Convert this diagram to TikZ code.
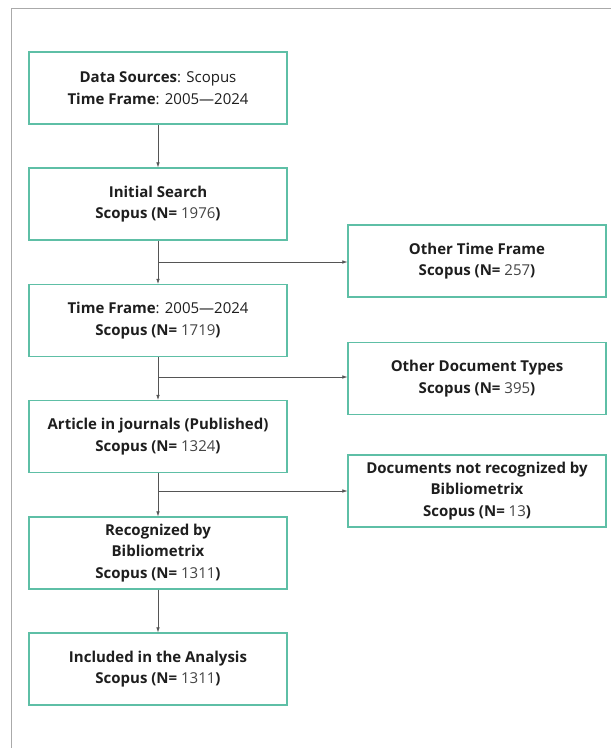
\documentclass[tikz,border=0pt]{standalone}
\usepackage{fontspec}
\setmainfont{Open Sans}
\usetikzlibrary{arrows.meta}
\definecolor{boxc}{HTML}{5EBFA6}
\definecolor{framec}{HTML}{AAAAAA}
\definecolor{arrc}{HTML}{555555}
\definecolor{numc}{HTML}{444444}
\definecolor{txtc}{HTML}{1E1E1E}
\tikzset{
  stepbox/.style={draw=boxc, line width=1.2pt, minimum width=258pt, minimum height=72pt,
    align=center, text=txtc, font=\fontsize{15}{21.5}\selectfont, inner sep=0pt},
  conn/.style={draw=arrc, line width=0.6pt, -{Latex[length=5pt,width=3.5pt]}}
}
\newcommand{\nv}[1]{\textcolor{numc}{#1}}
\begin{document}
\begin{tikzpicture}[x=1pt,y=-1pt]
\useasboundingbox (0,0) rectangle (611,748);
\fill[white] (0,0) rectangle (611,748);
\draw[framec, line width=1pt] (611,8) -- (11,8) -- (11,748);
\node[stepbox] (b1) at (158,88) {\textbf{Data Sources}: Scopus\\\textbf{Time Frame}: 2005—2024};
\node[stepbox] (b2) at (158,204) {\textbf{Initial Search}\\\textbf{Scopus (N=} \nv{1976}\textbf{)}};
\node[stepbox] (b3) at (158,320.5) {\textbf{Time Frame}: 2005—2024\\\textbf{Scopus (N=} \nv{1719}\textbf{)}};
\node[stepbox] (b4) at (158,436.5) {\textbf{Article in journals (Published)}\\\textbf{Scopus (N=} \nv{1324}\textbf{)}};
\node[stepbox] (b5) at (158,553) {\textbf{Recognized by}\\\textbf{Bibliometrix}\\\textbf{Scopus (N=} \nv{1311}\textbf{)}};
\node[stepbox] (b6) at (158,669) {\textbf{Included in the Analysis}\\\textbf{Scopus (N=} \nv{1311}\textbf{)}};
\node[stepbox] (r1) at (477,261) {\textbf{Other Time Frame}\\\textbf{Scopus (N=} \nv{257}\textbf{)}};
\node[stepbox] (r2) at (477,378.5) {\textbf{Other Document Types}\\\textbf{Scopus (N=} \nv{395}\textbf{)}};
\node[stepbox] (r3) at (477,491) {\textbf{Documents not recognized by}\\\textbf{Bibliometrix}\\\textbf{Scopus (N=} \nv{13}\textbf{)}};
\draw[conn] (b1) -- (b2);
\draw[conn] (b2) -- (b3);
\draw[conn] (b3) -- (b4);
\draw[conn] (b4) -- (b5);
\draw[conn] (b5) -- (b6);
\coordinate (j1) at (158,262);
\coordinate (j2) at (158,377);
\coordinate (j3) at (158,491);
\draw[conn] (j1) -- (j1 -| r1.west);
\draw[conn] (j2) -- (j2 -| r2.west);
\draw[conn] (j3) -- (j3 -| r3.west);
\end{tikzpicture}
\end{document}
